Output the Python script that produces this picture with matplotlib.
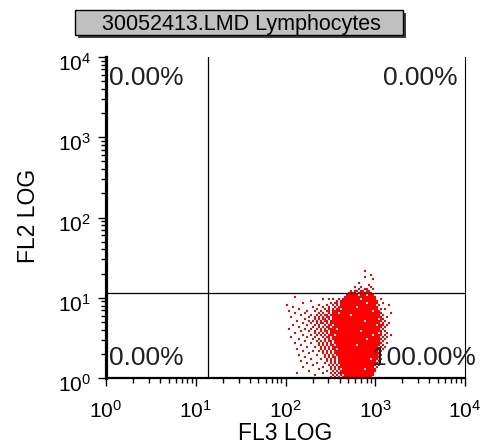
import matplotlib
matplotlib.use("Agg")
import matplotlib.pyplot as plt
import matplotlib.transforms as mtrans
from matplotlib.patches import Rectangle
from matplotlib.colors import ListedColormap
import numpy as np

plt.rcParams['font.family'] = ['Liberation Sans', 'DejaVu Sans']

# chart data
title = "30052413.LMD Lymphocytes"
x_label = "FL3 LOG"
y_label = "FL2 LOG"
x_ticks = [1, 10, 100, 1000, 10000]
y_ticks = [1, 10, 100, 1000, 10000]
tick_labels = [r"$\mathregular{10^{0}}$", r"$\mathregular{10^{1}}$", r"$\mathregular{10^{2}}$",
               r"$\mathregular{10^{3}}$", r"$\mathregular{10^{4}}$"]
x_gate = 13.7
y_gate = 11.5
quad_pct = ["0.00%", "0.00%", "0.00%", "100.00%"]  # UL, UR, LL, LR

# event occupancy: one row per bin, top to bottom,
# listing occupied FL3 bins (bin 0 starts at FL3 = 10^1.96, 45 bins per decade;
# rows are 40 bins per decade of FL2, bottom row starts at FL2 = 1)
event_rows = [
    "", "", "41", "", "44", "41", "45", "", "38", "43",
    "36 39 44",
    "38 41-42 45",
    "34 36-37 39-40 42-43",
    "33-36 38-44",
    "32-37 39-41 43-45",
    "6 31-46",
    "20 23 25 28 30-38 40-46 49",
    "14 27 29-47",
    "10 24 26-27 29-41 43-47 50",
    "2 18 22 25 27 29-46 48 53",
    "5 15 20 23 26 28-36 38-47",
    "8 17 21 23 25 27-28 30-47 49 51",
    "3 12 16 19 22-23 25-44 46-48",
    "6 11 18 20 23 25-27 29-49 54",
    "9 14 17 19 21-22 24-33 35-48 50",
    "4 13 16 18 20 22-23 25-49 52",
    "11 16 18 20-21 23 25-47 49-50",
    "7 13 15 17 19 21-22 24-40 42-49 51",
    "10 14 17 19-20 22 24-48 50 53",
    "5 12 16 18 21 23-24 26-46 48-50 52",
    "8 15 18 20 22-23 25-49 51",
    "3 11 14 17 19 21 23-26 28-48 50",
    "9 13 16 19 21-22 24-38 40-49 51",
    "6 16 18 20 22 24-47 49 52",
    "10 14 17 19 21 23-25 27-44 46-49 51 54",
    "4 12 16 20 22-23 25-48 50 52",
    "8 15 18 21 23 25-41 43-49 51",
    "11 17 19 21 23-24 26-48 50",
    "6 14 18 20 22 24 26-49 52",
    "9 18 20 22 24-25 27-36 38-48 50",
    "12 16 19 21 23 25-47 49 51",
    "7 19 21 23 25-26 28-48 50",
    "10 15 18 20 22 24 26-47 49",
    "13 20 22 24 26-48",
    "8 17 21 23 25 27-47 49",
    "11 21 23 25-26 28-48",
    "14 19 22 24 26 28-43 45-47 49",
    "9 22 24 26 28-46 48",
    "12 17 21 24 26 28-47",
    "15 23 25 27 29-46 48",
    "10 20 24 26 28-45 47",
    "18 24 26 28 30-40 42-46",
    "13 22 25 27 29-46",
    "7 20 24 26 28-45",
    "16 25 27 29 31-45",
    "24 26 28 30-44",
]
x_bin_start = 1.96
x_bins_per_decade = 45
y_bins_per_decade = 40

# build the occupancy grid
n_cols = 57
n_rows = len(event_rows)
grid = np.zeros((n_rows, n_cols))
for r, row in enumerate(event_rows):
    for part in row.split():
        if "-" in part:
            a, b = part.split("-")
            grid[r, int(a):int(b) + 1] = 1
        else:
            grid[r, int(part)] = 1
grid = grid[::-1]  # bottom row first
grid = np.ma.masked_equal(grid, 0)
x_edges = 10 ** (x_bin_start + np.arange(n_cols + 1) / x_bins_per_decade)
y_edges = 10 ** (np.arange(n_rows + 1) / y_bins_per_decade)

W, H = 483, 445
fig = plt.figure(figsize=(W / 100, H / 100), dpi=100)
ax = fig.add_axes([106 / W, 1 - 378 / H, (465 - 106) / W, (378 - 57) / H])

ax.pcolormesh(x_edges, y_edges, grid, cmap=ListedColormap(['#ff0000']),
              antialiased=False, edgecolors='none', zorder=1)

ax.set_xscale('log')
ax.set_yscale('log')
ax.set_xlim(x_ticks[0], x_ticks[-1])
ax.set_ylim(y_ticks[0], y_ticks[-1])

ax.axvline(x_gate, color='black', lw=0.9, zorder=3)
ax.axhline(y_gate, color='black', lw=0.9, zorder=3)

ax.spines['top'].set_visible(False)
ax.spines['left'].set_linewidth(2.3)
ax.spines['bottom'].set_linewidth(1.6)
ax.spines['right'].set_linewidth(0.8)
ax.tick_params(which='major', direction='out', length=6, width=1,
               labelleft=False, labelbottom=False, top=False, right=False)
ax.tick_params(which='minor', direction='out', length=3.5, width=1,
               top=False, right=False)
ax.set_xticks(x_ticks)
ax.set_yticks(y_ticks)

# tick labels
xt = mtrans.blended_transform_factory(ax.transData, ax.transAxes)
yt = mtrans.blended_transform_factory(ax.transAxes, ax.transData)
for v, lab in zip(x_ticks, tick_labels):
    off = mtrans.ScaledTranslation(0, -40 / 100, fig.dpi_scale_trans)
    ax.text(v, 0, lab, transform=xt + off, ha='center', va='baseline',
            fontsize=15, clip_on=False)
for v, lab in zip(y_ticks, tick_labels):
    off = mtrans.ScaledTranslation(-15 / 100, -14 / 100, fig.dpi_scale_trans)
    ax.text(0, v, lab, transform=yt + off, ha='right', va='baseline',
            fontsize=15, clip_on=False)

# axis labels
fig.text(285 / W, 1 - 440 / H, x_label, ha='center', va='baseline', fontsize=16.5)
fig.text(35 / W, 1 - 216 / H, y_label, ha='center', va='baseline', rotation=90,
         rotation_mode='anchor', fontsize=16.5)

# quadrant percentages
quad_pos = [(109, 85), (383, 85), (109, 365), (372, 365)]
for (px, py), txt in zip(quad_pos, quad_pct):
    fig.text(px / W, 1 - py / H, txt, ha='left', va='baseline', fontsize=19,
             color='#202020', zorder=5)

# title box with shadow
bx0, by0, bx1, by1 = 75, 10, 403, 35
fig.add_artist(Rectangle(((bx0 + 3) / W, 1 - (by1 + 3) / H), (bx1 - bx0) / W,
                         (by1 - by0) / H, transform=fig.transFigure,
                         facecolor='#404040', edgecolor='none'))
fig.add_artist(Rectangle((bx0 / W, 1 - by1 / H), (bx1 - bx0) / W,
                         (by1 - by0) / H, transform=fig.transFigure,
                         facecolor='#c0c0c0', edgecolor='black', lw=1))
fig.text(241 / W, 1 - 30 / H, title, ha='center', va='baseline', fontsize=15.5,
         zorder=5)

fig.savefig('out.png', dpi=100)
